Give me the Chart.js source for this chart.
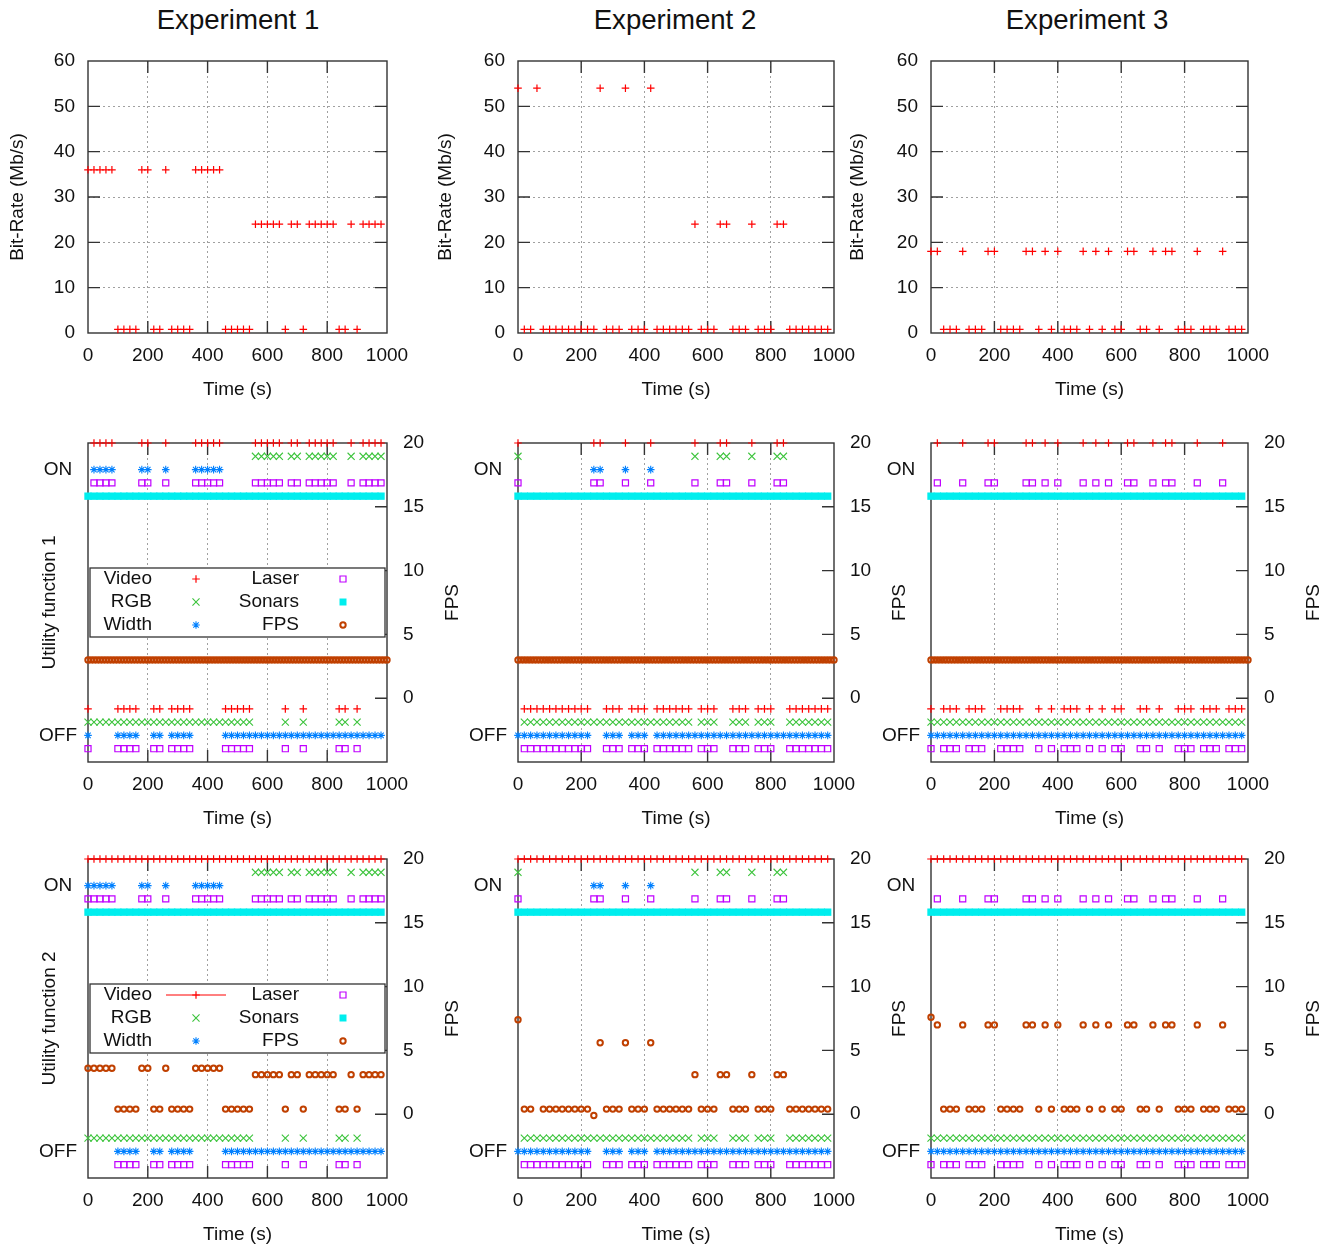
<!DOCTYPE html>
<html>
<head>
<meta charset="utf-8">
<title>Experiments</title>
<script src="https://cdn.jsdelivr.net/npm/chart.js@4.4.1/dist/chart.umd.min.js"></script>
<style>
  html, body { margin: 0; padding: 0; background: #fff; overflow: hidden; }
  body { width: 1329px; height: 1249px; position: relative; font-family: "Liberation Sans", Arial, sans-serif; color: #111; }
  .exp-title { position: absolute; top: 20px; font-size: 27.6px; line-height: 1; transform: translate(-50%, -50%); white-space: nowrap; }
  canvas { position: absolute; }
</style>
</head>
<body>
<div class="exp-title" style="left:238px">Experiment 1</div>
<div class="exp-title" style="left:675px">Experiment 2</div>
<div class="exp-title" style="left:1087px">Experiment 3</div>
<script>
// sample times (s) of the logged states, one every 20 s
const timeGrid = [0,20,40,60,80,100,120,140,160,180,200,220,240,260,280,300,320,340,360,380,
  400,420,440,460,480,500,520,540,560,580,600,620,640,660,680,700,720,740,760,780,
  800,820,840,860,880,900,920,940,960,980];

// FPS in utility function 1 is logged more often
const fpsTimeU1 = [0,10,20,30,40,50,60,70,80,90,100,110,120,130,140,150,160,170,180,190,
  200,210,220,230,240,250,260,270,280,290,300,310,320,330,340,350,360,370,380,390,
  400,410,420,430,440,450,460,470,480,490,500,510,520,530,540,550,560,570,580,590,
  600,610,620,630,640,650,660,670,680,690,700,710,720,730,740,750,760,770,780,790,
  800,810,820,830,840,850,860,870,880,890,900,910,920,930,940,950,960,970,980,990,1000];

// video bit-rate (Mb/s), per experiment
const bitRate = [
  [36,36,36,36,36, .8,.8,.8,.8,36, 36,.8,.8,36,.8, .8,.8,.8,36,36, 36,36,36,.8,.8,
   .8,.8,.8,24,24, 24,24,24,.8,24, 24,.8,24,24,24, 24,24,.8,.8,24, .8,24,24,24,24],
  [54,.8,.8,54,.8, .8,.8,.8,.8,.8, .8,.8,.8,54,.8, .8,.8,54,.8,.8, .8,54,.8,.8,.8,
   .8,.8,.8,24,.8, .8,.8,24,24,.8, .8,.8,24,.8,.8, .8,24,24,.8,.8, .8,.8,.8,.8,.8],
  [18,18,.8,.8,.8, 18,.8,.8,.8,18, 18,.8,.8,.8,.8, 18,18,.8,18,.8, 18,.8,.8,.8,18,
   .8,18,.8,18,.8, .8,18,18,.8,.8, 18,.8,18,18,.8, .8,.8,18,.8,.8, .8,18,.8,.8,.8]
];

// ON (1) / OFF (0) states
const allOn = [1,1,1,1,1, 1,1,1,1,1, 1,1,1,1,1, 1,1,1,1,1, 1,1,1,1,1,
  1,1,1,1,1, 1,1,1,1,1, 1,1,1,1,1, 1,1,1,1,1, 1,1,1,1,1];
const allOff = [0,0,0,0,0, 0,0,0,0,0, 0,0,0,0,0, 0,0,0,0,0, 0,0,0,0,0,
  0,0,0,0,0, 0,0,0,0,0, 0,0,0,0,0, 0,0,0,0,0, 0,0,0,0,0];

const videoU1 = [
  [0,1,1,1,1, 0,0,0,0,1, 1,0,0,1,0, 0,0,0,1,1, 1,1,1,0,0, 0,0,0,1,1, 1,1,1,0,1, 1,0,1,1,1, 1,1,0,0,1, 0,1,1,1,1],
  [1,0,0,0,0, 0,0,0,0,0, 0,0,1,1,0, 0,0,1,0,0, 0,1,0,0,0, 0,0,0,1,0, 0,0,1,1,0, 0,0,1,0,0, 0,1,1,0,0, 0,0,0,0,0],
  [0,1,0,0,0, 1,0,0,0,1, 1,0,0,0,0, 1,1,0,1,0, 1,0,0,0,1, 0,1,0,1,0, 0,1,1,0,0, 1,0,1,1,0, 0,0,1,0,0, 0,1,0,0,0]
];
const rgbU1 = [
  [0,0,0,0,0, 0,0,0,0,0, 0,0,0,0,0, 0,0,0,0,0, 0,0,0,0,0, 0,0,0,1,1, 1,1,1,0,1, 1,0,1,1,1, 1,1,0,0,1, 0,1,1,1,1],
  [1,0,0,0,0, 0,0,0,0,0, 0,0,0,0,0, 0,0,0,0,0, 0,0,0,0,0, 0,0,0,1,0, 0,0,1,1,0, 0,0,1,0,0, 0,1,1,0,0, 0,0,0,0,0],
  allOff
];
const widthU1 = [
  [0,1,1,1,1, 0,0,0,0,1, 1,0,0,1,0, 0,0,0,1,1, 1,1,1,0,0, 0,0,0,0,0, 0,0,0,0,0, 0,0,0,0,0, 0,0,0,0,0, 0,0,0,0,0],
  [0,0,0,0,0, 0,0,0,0,0, 0,0,1,1,0, 0,0,1,0,0, 0,1,0,0,0, 0,0,0,0,0, 0,0,0,0,0, 0,0,0,0,0, 0,0,0,0,0, 0,0,0,0,0],
  allOff
];
const laserU1 = videoU1; // laser follows the video state exactly here
const sonarsU1 = [allOn, allOn, allOn];
const fpsLevelU1 = [3.0, 3.0, 3.0];

const videoU2 = [allOn, allOn, allOn];
const rgbU2 = rgbU1;
const widthU2 = [
  [1,1,1,1,1, 0,0,0,0,1, 1,0,0,1,0, 0,0,0,1,1, 1,1,1,0,0, 0,0,0,0,0, 0,0,0,0,0, 0,0,0,0,0, 0,0,0,0,0, 0,0,0,0,0],
  widthU1[1],
  allOff
];
const laserU2 = [
  [1,1,1,1,1, 0,0,0,0,1, 1,0,0,1,0, 0,0,0,1,1, 1,1,1,0,0, 0,0,0,1,1, 1,1,1,0,1, 1,0,1,1,1, 1,1,0,0,1, 0,1,1,1,1],
  videoU1[1],
  videoU1[2]
];
const sonarsU2 = [allOn, allOn, allOn];
const fpsU2 = [
  [3.6,3.6,3.6,3.6,3.6, .4,.4,.4,.4,3.6, 3.6,.4,.4,3.6,.4, .4,.4,.4,3.6,3.6, 3.6,3.6,3.6,.4,.4,
   .4,.4,.4,3.1,3.1, 3.1,3.1,3.1,.4,3.1, 3.1,.4,3.1,3.1,3.1, 3.1,3.1,.4,.4,3.1, .4,3.1,3.1,3.1,3.1],
  [7.4,.4,.4,null,.4, .4,.4,.4,.4,.4, .4,.4,-0.1,5.6,.4, .4,.4,5.6,.4,.4, .4,5.6,.4,.4,.4,
   .4,.4,.4,3.1,.4, .4,.4,3.1,3.1,.4, .4,.4,3.1,.4,.4, .4,3.1,3.1,.4,.4, .4,.4,.4,.4,.4],
  [7.6,7.0,.4,.4,.4, 7.0,.4,.4,.4,7.0, 7.0,.4,.4,.4,.4, 7.0,7.0,.4,7.0,.4, 7.0,.4,.4,.4,7.0,
   .4,7.0,.4,7.0,.4, .4,7.0,7.0,.4,.4, 7.0,.4,7.0,7.0,.4, .4,.4,7.0,.4,.4, .4,7.0,.4,.4,.4]
];

// ---- look ----
const FONT = '"Liberation Sans", Arial, Helvetica, sans-serif';
const INK = '#111';
const FRAME = '#333';
const GRID = '#a0a0a0';
const TICK = 12;
const COLORS = { video: '#ff0000', rgb: '#3cc43c', width: '#0080ff', laser: '#c000ff', sonars: '#00eeee', fps: '#c04000' };
const STYLE = {
  video:  { pointStyle: 'cross',    radius: 3.8, borderWidth: 1.2 },
  rgb:    { pointStyle: 'crossRot', radius: 5,   borderWidth: 1.1 },
  width:  { pointStyle: 'star',     radius: 3.8, borderWidth: 1.1 },
  laser:  { pointStyle: 'rect',     radius: 4.3, borderWidth: 1.2 },
  sonars: { pointStyle: 'rect',     radius: 5.2, borderWidth: 0, filled: true },
  fps:    { pointStyle: 'circle',   radius: 2.7, borderWidth: 2 }
};
// vertical offset of each lane around the ON(1)/OFF(0) level
const LANE = { video: 0.1, rgb: 0.05, width: 0, laser: -0.05, sonars: -0.1 };

// plot areas on the page
const colX = [[88, 387], [518, 834], [931, 1248]];
const rowY = [[61, 333], [443, 762], [859, 1178]];
const M = { left: 85, right: 85, top: 20, bottom: 70 };
const rateTitleGap = [70, 72, 73];

function font() { return { family: FONT, size: 19 }; }

function innerGrid(lo, hi) {
  return c => (c.tick && c.tick.value > lo && c.tick.value < hi) ? GRID : 'rgba(0,0,0,0)';
}

// fixed box size, and no extra room claimed for edge labels
function fixBox(key, size) {
  return s => {
    s[key] = size;
    s.paddingTop = 0; s.paddingBottom = 0; s.paddingLeft = 0; s.paddingRight = 0;
  };
}

function drawMarker(ctx, key, x, y) {
  const s = STYLE[key], c = COLORS[key], r = s.radius;
  ctx.save();
  ctx.strokeStyle = c; ctx.fillStyle = c; ctx.lineWidth = s.borderWidth || 1;
  ctx.beginPath();
  if (key === 'video' || key === 'width') {
    ctx.moveTo(x - r, y); ctx.lineTo(x + r, y);
    ctx.moveTo(x, y - r); ctx.lineTo(x, y + r);
  }
  if (key === 'rgb' || key === 'width') {
    const d = r * Math.SQRT1_2;
    ctx.moveTo(x - d, y - d); ctx.lineTo(x + d, y + d);
    ctx.moveTo(x - d, y + d); ctx.lineTo(x + d, y - d);
  }
  if (key === 'laser') ctx.rect(x - 3, y - 3, 6, 6);
  if (key === 'sonars') ctx.rect(x - 3.5, y - 3.5, 7, 7);
  if (key === 'fps') ctx.arc(x, y, r, 0, Math.PI * 2);
  if (key === 'sonars') ctx.fill(); else ctx.stroke();
  ctx.restore();
}

const LEGEND_ROWS = [['Video', 'video', 'Laser', 'laser'], ['RGB', 'rgb', 'Sonars', 'sonars'], ['Width', 'width', 'FPS', 'fps']];

function drawLegend(ctx, a, mode) {
  const x0 = a.left + 2, x1 = a.right - 2, y0 = a.top + 125, y1 = a.top + 194;
  ctx.save();
  ctx.fillStyle = '#fff';
  ctx.fillRect(x0, y0, x1 - x0, y1 - y0);
  ctx.strokeStyle = FRAME; ctx.lineWidth = 1.3;
  ctx.strokeRect(x0, y0, x1 - x0, y1 - y0);
  ctx.font = '19px ' + FONT;
  ctx.textAlign = 'right'; ctx.textBaseline = 'middle';
  LEGEND_ROWS.forEach((row, i) => {
    const y = a.top + 136 + i * 23;
    ctx.fillStyle = INK;
    ctx.fillText(row[0], a.left + 64, y);
    ctx.fillText(row[2], a.left + 211, y);
    if (mode === 'line' && row[1] === 'video') {
      ctx.strokeStyle = COLORS.video; ctx.lineWidth = 1;
      ctx.beginPath(); ctx.moveTo(a.left + 78, y); ctx.lineTo(a.left + 138, y); ctx.stroke();
    }
    drawMarker(ctx, row[1], a.left + 108, y);
    drawMarker(ctx, row[3], a.left + 255, y);
  });
  ctx.restore();
}

// gnuplot style frame with inward ticks, legend and right title
const gnuFrame = {
  id: 'gnuframe',
  beforeDatasetsDraw(chart, args, opts) {
    const { ctx, chartArea: a } = chart;
    ctx.save();
    ctx.strokeStyle = FRAME; ctx.lineWidth = 1.4;
    ctx.strokeRect(a.left, a.top, a.right - a.left, a.bottom - a.top);
    ctx.beginPath();
    const xs = chart.scales.x;
    xs.ticks.forEach(t => {
      if (t.value <= xs.min || t.value >= xs.max) return;
      const px = xs.getPixelForValue(t.value);
      ctx.moveTo(px, a.bottom); ctx.lineTo(px, a.bottom - TICK);
      ctx.moveTo(px, a.top); ctx.lineTo(px, a.top + TICK);
    });
    const ys = opts.kind === 'rate' ? chart.scales.y : chart.scales.y2;
    ys.ticks.forEach(t => {
      if (t.value <= ys.min || t.value >= ys.max) return;
      const py = ys.getPixelForValue(t.value);
      ctx.moveTo(a.right, py); ctx.lineTo(a.right - TICK, py);
      if (opts.kind === 'rate') { ctx.moveTo(a.left, py); ctx.lineTo(a.left + TICK, py); }
    });
    ctx.stroke();
    if (opts.rightTitle) {
      ctx.translate(a.right + 66, (a.top + a.bottom) / 2);
      ctx.rotate(-Math.PI / 2);
      ctx.font = '19px ' + FONT; ctx.fillStyle = INK;
      ctx.textAlign = 'center'; ctx.textBaseline = 'middle';
      ctx.fillText(opts.rightTitle, 0, 0);
    }
    ctx.restore();
  },
  afterDatasetsDraw(chart, args, opts) {
    if (opts.legend) drawLegend(chart.ctx, chart.chartArea, opts.legend);
  }
};

function panelCanvas(col, row) {
  const [x0, x1] = colX[col], [y0, y1] = rowY[row];
  const c = document.createElement('canvas');
  c.width = (x1 - x0) + M.left + M.right;
  c.height = (y1 - y0) + M.top + M.bottom;
  c.style.left = (x0 - M.left) + 'px';
  c.style.top = (y0 - M.top) + 'px';
  c.style.width = c.width + 'px';
  c.style.height = c.height + 'px';
  document.body.appendChild(c);
  return c;
}

function lanePoints(times, states, lane) {
  return times.map((t, i) => ({ x: t, y: states[i] + lane }));
}
function valuePoints(times, vals) {
  return times.map((t, i) => ({ x: t, y: vals[i] }));
}
function markers(key, data, axis, extra) {
  const s = STYLE[key], c = COLORS[key];
  return Object.assign({
    label: key, data: data, yAxisID: axis || 'y', clip: false, showLine: false,
    pointStyle: s.pointStyle, pointRadius: s.radius, pointBorderWidth: s.borderWidth,
    pointBorderColor: c, pointBackgroundColor: s.filled ? c : 'rgba(0,0,0,0)',
    borderColor: c, backgroundColor: c, borderWidth: 1
  }, extra || {});
}

function xScale() {
  return {
    type: 'linear', min: 0, max: 1000, position: 'bottom',
    afterFit: fixBox('height', M.bottom),
    ticks: { stepSize: 200, padding: 11, color: INK, font: font(), maxRotation: 0, autoSkip: false,
             callback: v => String(v) },
    grid: { drawTicks: false, color: innerGrid(0, 1000), lineWidth: 1 },
    border: { display: false, dash: [2, 3] },
    title: { display: true, text: 'Time (s)', color: INK, font: font(), padding: { top: 0, bottom: M.bottom - 57 - 11.4 } }
  };
}

function baseOptions() {
  return {
    responsive: false, animation: false, devicePixelRatio: 1, events: [],
    layout: { autoPadding: false, padding: { top: M.top, left: 0, right: 0, bottom: 0 } },
    plugins: { legend: { display: false }, tooltip: { enabled: false } }
  };
}

// row 1: bit-rate
for (let e = 0; e < 3; e++) {
  const opts = baseOptions();
  opts.layout.padding.right = M.right;
  opts.plugins.gnuframe = { kind: 'rate' };
  opts.scales = {
    x: xScale(),
    y: {
      type: 'linear', min: 0, max: 60, position: 'left',
      afterFit: fixBox('width', M.left),
      ticks: { stepSize: 10, padding: 13, color: INK, font: font() },
      grid: { drawTicks: false, color: innerGrid(0, 60), lineWidth: 1 },
      border: { display: false, dash: [2, 3] },
      title: { display: true, text: 'Bit-Rate (Mb/s)', color: INK, font: font(),
               padding: { top: M.left - rateTitleGap[e] - 11.4, bottom: 0 } }
    }
  };
  new Chart(panelCanvas(e, 0), {
    type: 'scatter',
    data: { datasets: [markers('video', valuePoints(timeGrid, bitRate[e]))] },
    options: opts,
    plugins: [gnuFrame]
  });
}

// rows 2 and 3: utility functions
function statePanel(e, row, u) {
  const opts = baseOptions();
  opts.plugins.gnuframe = { kind: 'state', rightTitle: 'FPS', legend: e === 0 ? (row === 1 ? 'points' : 'line') : null };
  opts.scales = {
    x: xScale(),
    y: {
      type: 'linear', min: -0.1, max: 1.1, position: 'left',
      afterFit: fixBox('width', M.left),
      afterBuildTicks: s => { s.ticks = [{ value: 0 }, { value: 1 }]; },
      ticks: { padding: 11, crossAlign: 'center', color: INK, font: font(),
               callback: v => v === 1 ? 'ON' : (v === 0 ? 'OFF' : '') },
      grid: { display: false, drawTicks: false },
      border: { display: false },
      title: e === 0
        ? { display: true, text: 'Utility function ' + row, color: INK, font: font(), padding: { top: M.left - 38 - 11.4, bottom: 0 } }
        : { display: false }
    },
    y2: {
      type: 'linear', min: -5, max: 20, position: 'right',
      afterFit: fixBox('width', M.right),
      ticks: { stepSize: 5, padding: 16, color: INK, font: font(), callback: v => v < 0 ? '' : String(v) },
      grid: { display: false, drawTicks: false },
      border: { display: false }
    }
  };
  const fpsData = row === 1
    ? fpsTimeU1.map(t => ({ x: t, y: fpsLevelU1[e] }))
    : valuePoints(timeGrid, u.fps[e]);
  const datasets = [
    markers('video', lanePoints(timeGrid, u.video[e], LANE.video), 'y', row === 2 ? { showLine: true } : {}),
    markers('rgb', lanePoints(timeGrid, u.rgb[e], LANE.rgb)),
    markers('width', lanePoints(timeGrid, u.width[e], LANE.width)),
    markers('laser', lanePoints(timeGrid, u.laser[e], LANE.laser)),
    markers('sonars', lanePoints(timeGrid, u.sonars[e], LANE.sonars)),
    markers('fps', fpsData, 'y2')
  ];
  new Chart(panelCanvas(e, row), { type: 'scatter', data: { datasets: datasets }, options: opts, plugins: [gnuFrame] });
}

const U1 = { video: videoU1, rgb: rgbU1, width: widthU1, laser: laserU1, sonars: sonarsU1 };
const U2 = { video: videoU2, rgb: rgbU2, width: widthU2, laser: laserU2, sonars: sonarsU2, fps: fpsU2 };
for (let e = 0; e < 3; e++) statePanel(e, 1, U1);
for (let e = 0; e < 3; e++) statePanel(e, 2, U2);
</script>
</body>
</html>
